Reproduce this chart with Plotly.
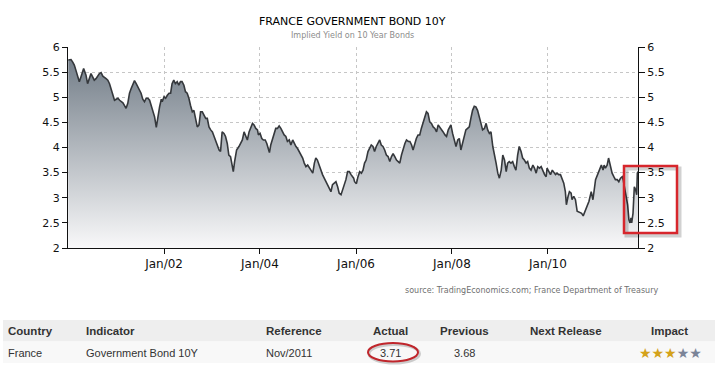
import plotly.graph_objects as go

# ---------------- data ----------------
dates = [
    "2000-01-03","2000-01-24","2000-02-06","2000-02-18","2000-03-01","2000-03-14","2000-03-27","2000-04-09",
    "2000-04-29","2000-05-17","2000-05-29","2000-06-24","2000-07-07","2000-07-19","2000-08-01","2000-08-27",
    "2000-09-09","2000-09-22","2000-10-17","2000-10-30","2000-11-12","2000-11-25","2000-12-07","2000-12-20",
    "2001-01-02","2001-01-15","2001-01-28","2001-02-22","2001-03-05","2001-03-18","2001-03-31","2001-04-13",
    "2001-04-25","2001-05-08","2001-05-21","2001-06-03","2001-06-15","2001-06-28","2001-07-10","2001-07-23",
    "2001-08-05","2001-08-18","2001-08-31","2001-09-13","2001-09-26","2001-10-08","2001-10-21","2001-11-03",
    "2001-11-16","2001-11-28","2001-12-11","2001-12-18","2002-01-01","2002-01-13","2002-01-26","2002-02-08",
    "2002-02-20","2002-03-03","2002-03-16","2002-03-28","2002-04-11","2002-04-23","2002-05-06","2002-05-18",
    "2002-06-01","2002-06-13","2002-06-26","2002-07-09","2002-07-21","2002-08-04","2002-08-16","2002-08-29",
    "2002-09-11","2002-09-24","2002-10-06","2002-10-19","2002-11-01","2002-11-14","2002-11-26","2002-12-09",
    "2002-12-22","2003-01-04","2003-01-17","2003-01-29","2003-02-12","2003-02-24","2003-03-07","2003-03-19",
    "2003-04-02","2003-04-14","2003-04-27","2003-05-09","2003-05-22","2003-06-04","2003-06-12","2003-06-22",
    "2003-07-07","2003-07-25","2003-08-07","2003-08-20","2003-09-02","2003-09-15","2003-09-27","2003-10-10",
    "2003-10-23","2003-11-05","2003-11-17","2003-11-30","2003-12-13","2003-12-20","2004-01-02","2004-01-15",
    "2004-01-27","2004-02-10","2004-02-22","2004-03-05","2004-03-13","2004-03-23","2004-04-08","2004-04-18",
    "2004-04-30","2004-05-13","2004-05-26","2004-06-08","2004-06-20","2004-07-03","2004-07-16","2004-07-28",
    "2004-08-11","2004-08-23","2004-09-06","2004-09-18","2004-10-01","2004-10-13","2004-10-26","2004-11-08",
    "2004-11-21","2004-12-03","2004-12-16","2004-12-29","2005-01-11","2005-01-23","2005-02-06","2005-02-18",
    "2005-03-01","2005-03-13","2005-03-26","2005-04-09","2005-04-21","2005-05-04","2005-05-16","2005-05-29",
    "2005-06-11","2005-06-24","2005-07-06","2005-07-19","2005-08-01","2005-08-14","2005-08-26","2005-09-09",
    "2005-09-21","2005-10-04","2005-10-16","2005-10-29","2005-11-11","2005-11-24","2005-12-06","2005-12-14",
    "2005-12-21","2006-01-04","2006-01-16","2006-01-29","2006-02-11","2006-02-23","2006-03-07","2006-03-19",
    "2006-04-02","2006-04-14","2006-04-27","2006-05-10","2006-05-22","2006-06-04","2006-06-17","2006-06-30",
    "2006-07-12","2006-07-25","2006-08-07","2006-08-20","2006-09-02","2006-09-15","2006-09-28","2006-10-10",
    "2006-10-23","2006-11-05","2006-11-18","2006-11-30","2006-12-13","2006-12-25","2007-01-08","2007-01-20",
    "2007-02-03","2007-02-15","2007-02-28","2007-03-11","2007-03-23","2007-04-05","2007-04-18","2007-05-01",
    "2007-05-13","2007-05-26","2007-06-08","2007-06-21","2007-07-03","2007-07-16","2007-07-29","2007-08-11",
    "2007-08-24","2007-09-06","2007-09-18","2007-10-01","2007-10-14","2007-10-26","2007-11-09","2007-11-21",
    "2007-12-04","2007-12-16","2007-12-24","2008-01-06","2008-01-19","2008-02-01","2008-02-14","2008-02-26",
    "2008-03-09","2008-03-22","2008-04-04","2008-04-16","2008-04-29","2008-05-12","2008-05-24","2008-06-06",
    "2008-06-19","2008-07-01","2008-07-14","2008-07-27","2008-08-09","2008-08-21","2008-09-04","2008-09-17",
    "2008-09-29","2008-10-12","2008-10-24","2008-11-07","2008-11-20","2008-12-02","2008-12-15","2008-12-27",
    "2009-01-10","2009-01-22","2009-02-04","2009-02-17","2009-02-28","2009-03-12","2009-03-25","2009-04-07",
    "2009-04-20","2009-05-02","2009-05-15","2009-05-27","2009-06-10","2009-06-22","2009-07-05","2009-07-18",
    "2009-07-30","2009-08-12","2009-08-25","2009-09-08","2009-09-20","2009-10-03","2009-10-15","2009-10-28",
    "2009-11-10","2009-11-23","2009-12-06","2009-12-18","2009-12-25","2010-01-08","2010-01-20","2010-02-03",
    "2010-02-15","2010-02-27","2010-03-11","2010-03-23","2010-04-06","2010-04-18","2010-05-01","2010-05-13",
    "2010-05-21","2010-06-03","2010-06-13","2010-06-26","2010-07-03","2010-07-16","2010-07-29","2010-08-11",
    "2010-08-29","2010-09-14","2010-09-26","2010-10-14","2010-11-09","2010-11-26","2010-12-09","2010-12-29",
    "2011-01-19","2011-02-01","2011-02-11","2011-02-24","2011-03-04","2011-03-14","2011-03-27","2011-04-07",
    "2011-04-22","2011-05-04","2011-05-17","2011-05-29","2011-06-12","2011-06-24","2011-07-07","2011-07-20",
    "2011-07-27","2011-08-09","2011-08-19","2011-08-30","2011-09-09","2011-09-17","2011-09-25","2011-09-30",
    "2011-10-10","2011-10-20","2011-10-30","2011-11-07","2011-11-12","2011-11-17",
]
yields = [
    5.74,5.75,5.70,5.64,5.54,5.44,5.31,5.41,
    5.57,5.44,5.27,5.47,5.41,5.34,5.37,5.47,
    5.49,5.42,5.37,5.34,5.27,5.17,5.04,4.94,
    4.96,4.98,4.94,4.89,4.84,4.78,4.88,5.08,
    5.17,5.24,5.33,5.27,5.21,5.14,5.08,4.96,
    4.91,4.98,4.98,4.94,4.81,4.74,4.61,4.40,
    4.65,4.81,4.96,4.91,5.01,4.98,5.04,5.08,
    5.08,5.27,5.34,5.27,5.31,5.24,5.31,5.31,
    5.24,5.11,5.08,4.98,4.84,4.71,4.74,4.55,
    4.41,4.45,4.71,4.71,4.65,4.58,4.58,4.41,
    4.35,4.31,4.22,4.12,4.02,3.95,3.92,4.31,
    4.28,4.22,4.08,3.85,3.82,3.59,3.52,3.72,
    3.95,4.02,4.08,4.15,4.31,4.22,4.15,4.31,
    4.38,4.48,4.45,4.38,4.35,4.25,4.28,4.18,
    4.15,4.15,4.08,3.98,3.90,4.05,4.18,4.25,
    4.38,4.38,4.43,4.38,4.31,4.25,4.22,4.12,
    4.15,4.05,4.15,4.08,4.02,3.98,3.92,3.85,
    3.79,3.69,3.62,3.65,3.59,3.55,3.49,3.69,
    3.79,3.75,3.65,3.52,3.46,3.39,3.32,3.26,
    3.16,3.12,3.26,3.29,3.32,3.22,3.09,3.06,
    3.16,3.26,3.36,3.52,3.52,3.46,3.42,3.39,
    3.32,3.28,3.42,3.52,3.49,3.55,3.69,3.75,
    3.92,3.98,4.05,4.02,3.92,4.02,4.08,4.15,
    4.05,4.02,3.95,3.85,3.82,3.72,3.82,3.88,
    3.82,3.75,3.72,3.69,3.85,3.98,4.08,4.15,
    4.12,4.12,4.05,3.95,4.08,4.18,4.25,4.25,
    4.38,4.48,4.58,4.71,4.68,4.51,4.48,4.41,
    4.38,4.31,4.45,4.41,4.35,4.31,4.25,4.22,
    4.35,4.41,4.45,4.28,4.15,4.02,4.15,4.18,
    3.95,4.08,4.22,4.35,4.38,4.41,4.58,4.74,
    4.82,4.81,4.74,4.58,4.48,4.35,4.38,4.48,
    4.35,4.28,4.31,4.02,3.88,3.69,3.49,3.39,
    3.55,3.85,3.75,3.52,3.69,3.72,3.69,3.72,
    3.62,3.55,3.85,4.02,3.92,3.79,3.75,3.69,
    3.72,3.59,3.55,3.65,3.59,3.49,3.62,3.59,
    3.62,3.52,3.46,3.42,3.59,3.52,3.46,3.55,
    3.49,3.46,3.49,3.46,3.46,3.39,3.29,3.12,
    2.86,3.03,3.12,3.09,2.96,3.03,2.96,2.73,
    2.71,2.69,2.64,2.76,2.93,3.12,2.96,3.36,
    3.49,3.59,3.65,3.55,3.65,3.59,3.65,3.79,
    3.62,3.49,3.42,3.36,3.36,3.32,3.39,3.42,
    3.36,3.16,3.03,2.86,2.56,2.50,2.60,2.50,
    2.69,3.22,3.16,3.06,3.49,3.52,
]

x_tick_vals = ["2002-01-01", "2004-01-01", "2006-01-01", "2008-01-01", "2010-01-01"]
x_tick_text = ["Jan/02", "Jan/04", "Jan/06", "Jan/08", "Jan/10"]
y_tick_vals = [2, 2.5, 3, 3.5, 4, 4.5, 5, 5.5, 6]
y_tick_text = ["2", "2.5", "3", "3.5", "4", "4.5", "5", "5.5", "6"]

title_text = "FRANCE GOVERNMENT BOND 10Y"
subtitle_text = "Implied Yield on 10 Year Bonds"
source_text = "source: TradingEconomics.com; France Department of Treasury"

table_header = ["Country", "Indicator", "Reference", "Actual", "Previous", "Next Release", "Impact"]
table_row = ["France", "Government Bond 10Y", "Nov/2011", "3.71", "3.68", ""]
impact_filled = 3
impact_total = 5

# ---------------- layout helpers ----------------
W, H = 715, 367
ML, MR, MT, MB = 68, 77, 47, 119
PW, PH = W - ML - MR, H - MT - MB


def px(x):
    return (x - ML) / PW


def py(y):
    return (H - MB - y) / PH


fig = go.Figure()
fig.add_trace(go.Scatter(
    x=dates, y=yields, mode="lines",
    line=dict(color="#35383c", width=1.6),
    fill="tozeroy",
    fillgradient=dict(type="vertical", start=2, stop=5.9,
                      colorscale=[[0, "#f8f8f9"], [1, "#6f7a85"]]),
    hoverinfo="skip", showlegend=False,
))
fig.add_trace(go.Scatter(
    x=dates, y=yields, mode="lines", yaxis="y2",
    line=dict(color="rgba(0,0,0,0)", width=0),
    hoverinfo="skip", showlegend=False,
))

tick_font = dict(family="DejaVu Sans", size=11, color="#111111")
grid_dash = "3px,3px"
fig.update_layout(
    width=W, height=H,
    margin=dict(l=ML, r=MR, t=MT, b=MB),
    paper_bgcolor="white", plot_bgcolor="white",
    showlegend=False,
    xaxis=dict(
        type="date", range=["2000-01-01", "2011-11-17"],
        tickvals=x_tick_vals, ticktext=x_tick_text,
        showgrid=True, gridcolor="#c6c6c6", griddash=grid_dash, gridwidth=1,
        showline=True, linecolor="#111", linewidth=1,
        ticks="outside", ticklen=5, tickcolor="#111",
        tickfont=dict(family="DejaVu Sans", size=12, color="#111111"),
        zeroline=False, fixedrange=True,
    ),
    yaxis=dict(
        range=[2, 6], tickvals=y_tick_vals, ticktext=y_tick_text,
        showgrid=True, gridcolor="#c6c6c6", griddash=grid_dash, gridwidth=1,
        showline=True, linecolor="#111", linewidth=1,
        ticks="outside", ticklen=5, tickcolor="#111",
        tickfont=tick_font, zeroline=False, fixedrange=True,
    ),
    yaxis2=dict(
        range=[2, 6], tickvals=y_tick_vals, ticktext=y_tick_text,
        overlaying="y", side="right", showgrid=False,
        showline=True, linecolor="#111", linewidth=1,
        ticks="outside", ticklen=6, tickcolor="#111",
        tickfont=tick_font, zeroline=False, fixedrange=True,
    ),
)

annotations = [
    dict(text=title_text, x=px(352), y=py(21.5), xref="paper", yref="paper",
         xanchor="center", yanchor="middle", showarrow=False,
         font=dict(family="DejaVu Sans", size=11, color="#000000")),
    dict(text=subtitle_text, x=px(352), y=py(35.5), xref="paper", yref="paper",
         xanchor="center", yanchor="middle", showarrow=False,
         font=dict(family="DejaVu Sans", size=8, color="#8c8c8c")),
    dict(text=source_text, x=px(660), y=py(290), xref="paper", yref="paper",
         xanchor="right", yanchor="middle", showarrow=False,
         font=dict(family="DejaVu Sans", size=8, color="#707070")),
]

col_x = [6, 84, 264, 390, 464, 566, 669]
col_anchor = ["left", "left", "left", "center", "center", "center", "center"]
for i, h in enumerate(table_header):
    annotations.append(dict(
        text="<b>" + h + "</b>", x=px(col_x[i]), y=py(331), xref="paper", yref="paper",
        xanchor=col_anchor[i], yanchor="middle", showarrow=False,
        font=dict(family="Liberation Sans", size=11.5, color="#333333")))
for i, v in enumerate(table_row):
    if v:
        annotations.append(dict(
            text=v, x=px(col_x[i]), y=py(352.5), xref="paper", yref="paper",
            xanchor=col_anchor[i], yanchor="middle", showarrow=False,
            font=dict(family="Liberation Sans", size=11, color="#333333")))
stars = ('<span style="color:#d4a21a">' + "★" * impact_filled + "</span>"
         + '<span style="color:#7b8498">' + "★" * (impact_total - impact_filled) + "</span>")
annotations.append(dict(
    text=stars, x=px(670), y=py(352.5), xref="paper", yref="paper",
    xanchor="center", yanchor="middle", showarrow=False,
    font=dict(family="DejaVu Sans", size=14)))

shapes = [
    # table bands
    dict(type="rect", xref="paper", yref="paper", x0=px(3), x1=px(715), y0=py(320), y1=py(341.5),
         fillcolor="#eeeeee", line=dict(width=0), layer="below"),
    dict(type="rect", xref="paper", yref="paper", x0=px(3), x1=px(715), y0=py(341.5), y1=py(363),
         fillcolor="#f8f8f8", line=dict(width=0), layer="below"),
    # highlight rectangle shadow + rectangle
    dict(type="rect", xref="paper", yref="paper", x0=px(626.5), x1=px(679.5), y0=py(168.5), y1=py(235.5),
         line=dict(color="rgba(0,0,0,0.18)", width=4)),
    dict(type="rect", xref="paper", yref="paper", x0=px(624), x1=px(677), y0=py(166), y1=py(233),
         line=dict(color="#d7262c", width=2.5)),
    # ellipse shadow + ellipse
    dict(type="circle", xref="paper", yref="paper", x0=px(369), x1=px(419.5), y0=py(344.5), y1=py(363),
         line=dict(color="rgba(0,0,0,0.18)", width=3)),
    dict(type="circle", xref="paper", yref="paper", x0=px(368), x1=px(418), y0=py(343), y1=py(361.5),
         line=dict(color="#c0262c", width=2)),
]

fig.update_layout(annotations=annotations, shapes=shapes)
fig.write_html("out.html", config={"displayModeBar": False},
               post_script="document.body.style.margin='0px';")
